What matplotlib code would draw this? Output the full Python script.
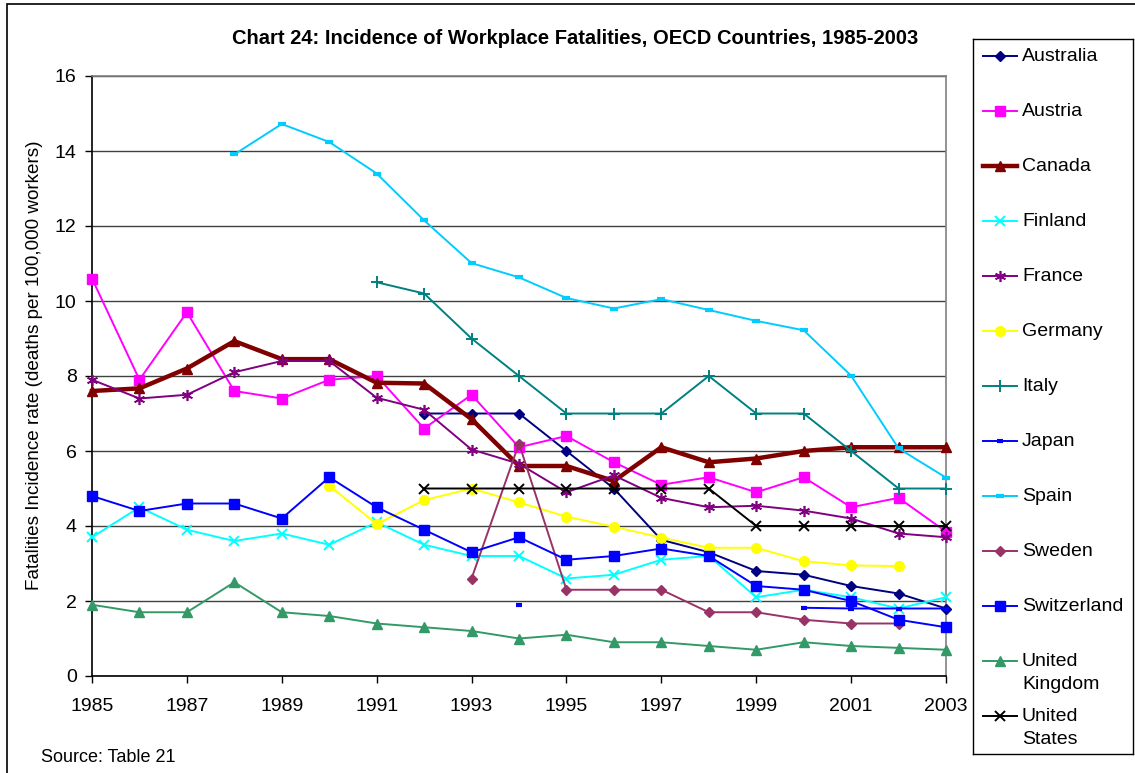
import numpy as np
import matplotlib
matplotlib.use("Agg")
import matplotlib.pyplot as plt
from matplotlib.patches import Rectangle

plt.rcParams['font.family'] = ['Liberation Sans', 'DejaVu Sans']

nan = np.nan
years = list(range(1985, 2004))

australia   = [nan]*7 + [7.0, 7.0, 7.0, 6.0, 5.0, 3.63, 3.3, 2.8, 2.7, 2.4, 2.2, 1.8]
austria     = [10.6, 7.9, 9.7, 7.6, 7.4, 7.9, 8.0, 6.6, 7.5, 6.1, 6.4, 5.7, 5.1, 5.3, 4.9, 5.3, 4.5, 4.75, 3.85]
canada      = [7.6, 7.67, 8.2, 8.93, 8.45, 8.45, 7.82, 7.8, 6.85, 5.6, 5.6, 5.2, 6.1, 5.7, 5.8, 6.0, 6.1, 6.1, 6.1]
finland     = [3.7, 4.5, 3.9, 3.6, 3.8, 3.5, 4.1, 3.5, 3.2, 3.2, 2.6, 2.7, 3.1, 3.2, 2.1, 2.3, 2.1, 1.8, 2.1]
france      = [7.9, 7.4, 7.5, 8.1, 8.4, 8.4, 7.42, 7.1, 6.04, 5.66, 4.9, 5.35, 4.75, 4.5, 4.54, 4.41, 4.2, 3.8, 3.7]
germany     = [nan]*5 + [5.08, 4.05, 4.69, 5.0, 4.63, 4.25, 3.98, 3.69, 3.42, 3.42, 3.06, 2.95, 2.93, nan]
italy       = [nan]*6 + [10.5, 10.2, 9.0, 8.0, 7.0, 7.0, 7.0, 8.0, 7.0, 7.0, 6.0, 5.0, 5.0]
japan       = [nan]*9 + [1.9] + [nan]*5 + [1.82, 1.8, 1.8, 1.8]
spain       = [nan]*3 + [13.91, 14.72, 14.24, 13.4, 12.15, 11.01, 10.63, 10.08, 9.8, 10.05, 9.76, 9.47, 9.22, 8.01, 6.07, 5.29]
sweden      = [nan]*8 + [2.6, 6.2, 2.3, 2.3, 2.3, 1.7, 1.7, 1.5, 1.4, 1.4, nan]
switzerland = [4.8, 4.4, 4.6, 4.6, 4.2, 5.3, 4.5, 3.9, 3.3, 3.7, 3.1, 3.2, 3.4, 3.2, 2.4, 2.3, 2.0, 1.5, 1.3]
uk          = [1.9, 1.7, 1.7, 2.5, 1.7, 1.6, 1.4, 1.3, 1.2, 1.0, 1.1, 0.9, 0.9, 0.8, 0.7, 0.9, 0.8, 0.75, 0.7]
us          = [nan]*7 + [5.0, 5.0, 5.0, 5.0, 5.0, 5.0, 5.0, 4.0, 4.0, 4.0, 4.0, 4.0]

labels = ["Australia", "Austria", "Canada", "Finland", "France", "Germany", "Italy",
          "Japan", "Spain", "Sweden", "Switzerland", "United\nKingdom", "United\nStates"]
series = [australia, austria, canada, finland, france, germany, italy,
          japan, spain, sweden, switzerland, uk, us]

styles = [
    dict(color="#000080", marker="D", ms=5, lw=1.4),
    dict(color="#FF00FF", marker="s", ms=7, lw=1.4),
    dict(color="#800000", marker="^", ms=7, lw=3.2),
    dict(color="#00FFFF", marker="x", ms=7, lw=1.4, mew=1.4),
    dict(color="#800080", marker=(6, 2, 0), ms=8, lw=1.4, mew=1.2),
    dict(color="#FFFF00", marker="o", ms=7, lw=1.4),
    dict(color="#008080", marker="+", ms=8, lw=1.4, mew=1.4),
    dict(color="#0000FF", marker="_", ms=4, lw=1.4, mew=3),
    dict(color="#00CCFF", marker="_", ms=6, lw=1.4, mew=3),
    dict(color="#993366", marker="D", ms=5, lw=1.4),
    dict(color="#0000FF", marker="s", ms=7, lw=1.4),
    dict(color="#339966", marker="^", ms=7, lw=1.4),
    dict(color="#000000", marker="x", ms=7, lw=1.4, mew=1.4),
]

W, H = 1135, 773
fig = plt.figure(figsize=(W/100, H/100), dpi=100)

def fx(px):
    return px / W

def fy(py):
    return 1 - py / H

ax = fig.add_axes([fx(92), fy(676), fx(946) - fx(92), fy(76) - fy(676)])

for vals, st in zip(series, styles):
    ax.plot(years, vals, color=st["color"], lw=st["lw"], marker=st["marker"],
            markersize=st["ms"], markeredgewidth=st.get("mew", 1.0),
            markerfacecolor=st["color"], markeredgecolor=st["color"],
            clip_on=False, zorder=3)

ax.set_xlim(1985, 2003)
ax.set_ylim(0, 16)
ax.set_xticks(range(1985, 2004, 2))
ax.set_yticks(range(0, 17, 2))
ax.tick_params(axis="both", direction="out", length=5, width=1, labelsize=14, color="#000000")
ax.tick_params(axis="x", pad=11)
ax.tick_params(axis="y", pad=6)
ax.yaxis.grid(True, color="#404040", lw=1.0, zorder=0)
ax.set_axisbelow(True)
for s in ["left", "bottom"]:
    ax.spines[s].set_color("#000000")
    ax.spines[s].set_linewidth(1.2)
for s in ["top", "right"]:
    ax.spines[s].set_color("#808080")
    ax.spines[s].set_linewidth(1.2)

fig.text(fx(575), fy(38), "Chart 24: Incidence of Workplace Fatalities, OECD Countries, 1985-2003",
         ha="center", va="center", fontsize=14.5, fontweight="bold")
fig.text(fx(35), fy(365), "Fatalities Incidence rate (deaths per 100,000 workers)",
         rotation=90, ha="center", va="center", fontsize=13.6)
fig.text(fx(41), fy(757), "Source: Table 21", ha="left", va="center", fontsize=13)

# figure border
fig.add_artist(Rectangle((fx(7), fy(1500)), 2, fy(4) - fy(1500), transform=fig.transFigure,
                         fill=False, edgecolor="#000000", lw=1.2))

# legend box drawn manually
lx0, lx1, ly0, ly1 = 973, 1133, 39, 754
lax = fig.add_axes([fx(lx0), fy(ly1), fx(lx1) - fx(lx0), fy(ly0) - fy(ly1)])
lax.set_xlim(lx0, lx1)
lax.set_ylim(ly1, ly0)
lax.set_xticks([])
lax.set_yticks([])
for s in lax.spines.values():
    s.set_color("#000000")
    s.set_linewidth(1.0)
for i, (lab, st) in enumerate(zip(labels, styles)):
    yy = 56 + 55 * i
    lax.plot([983, 1017], [yy, yy], color=st["color"], lw=st["lw"])
    lax.plot([1000], [yy], color=st["color"], marker=st["marker"], markersize=st["ms"],
             markeredgewidth=st.get("mew", 1.0), markerfacecolor=st["color"],
             markeredgecolor=st["color"], linestyle="none")
    for k, part in enumerate(lab.split("\n")):
        lax.text(1022, yy + 23 * k, part, ha="left", va="center", fontsize=14)

fig.savefig("out.png", dpi=100)
